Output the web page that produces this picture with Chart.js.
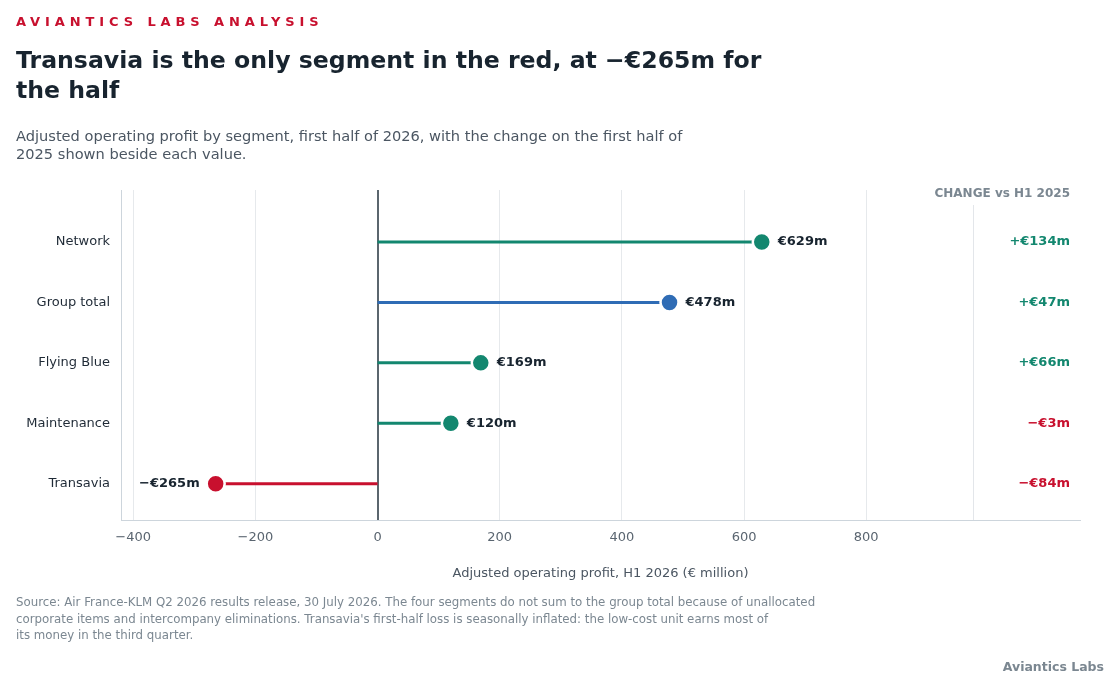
<!DOCTYPE html>
<html>
<head>
<meta charset="utf-8">
<script src="https://cdn.jsdelivr.net/npm/chart.js@4.4.1/dist/chart.umd.min.js"></script>
<style>
  html,body{margin:0;padding:0;background:#fff;width:1120px;height:690px;overflow:hidden;font-family:"DejaVu Sans",sans-serif;}
  .t{position:absolute;left:16px;white-space:nowrap;}
  #kicker{top:13px;font-size:13px;font-weight:bold;color:#c8102e;letter-spacing:4.9px;line-height:18px;}
  #title{top:45px;font-size:23.6px;font-weight:bold;color:#18242f;line-height:30px;}
  #sub{top:127px;font-size:14.6px;color:#4b5662;line-height:18px;}
  #foot{top:594px;font-size:11.8px;color:#7b8791;line-height:16.5px;}
  #brand{position:absolute;right:16px;top:659px;font-size:12.5px;font-weight:bold;color:#7b8791;}
  #wrap{position:absolute;left:0;top:0;width:1120px;height:690px;}
</style>
</head>
<body>
<div id="wrap"><canvas id="c"></canvas></div>
<div class="t" id="kicker">AVIANTICS LABS ANALYSIS</div>
<div class="t" id="title">Transavia is the only segment in the red, at −€265m for<br>the half</div>
<div class="t" id="sub">Adjusted operating profit by segment, first half of 2026, with the change on the first half of<br>2025 shown beside each value.</div>
<div class="t" id="foot">Source: Air France-KLM Q2 2026 results release, 30 July 2026. The four segments do not sum to the group total because of unallocated<br>corporate items and intercompany eliminations. Transavia's first-half loss is seasonally inflated: the low-cost unit earns most of<br>its money in the third quarter.</div>
<div id="brand">Aviantics Labs</div>
<script>
const categories = ["Network", "Group total", "Flying Blue", "Maintenance", "Transavia"];
const profitValues = [629, 478, 169, 120, -265];
const changeValues = [134, 47, 66, -3, -84];
const rowColors = ["#13876f", "#2f6cb5", "#13876f", "#13876f", "#c8102e"];
const xTicks = [-400, -200, 0, 200, 400, 600, 800];

const GREEN = "#13876f", RED = "#c8102e";
const fmt = v => (v < 0 ? "−€" + Math.abs(v) : "€" + v) + "m";
const fmtChange = v => (v < 0 ? "−€" + Math.abs(v) : "+€" + v) + "m";

const datasets = categories.map((c, i) => ({
  label: c,
  data: [{x: 0, y: i}, {x: profitValues[i], y: i}],
  showLine: true,
  borderColor: rowColors[i],
  borderWidth: 3,
  borderCapStyle: "butt",
  pointRadius: [0, 9],
  pointHoverRadius: [0, 9],
  pointBackgroundColor: rowColors[i],
  pointBorderColor: "#ffffff",
  pointBorderWidth: [0, 2.5],
}));

const labelPlugin = {
  id: "labels",
  afterDatasetsDraw(chart) {
    const {ctx, scales: {x, y}, chartArea} = chart;
    ctx.save();
    ctx.font = "bold 13px 'DejaVu Sans'";
    ctx.textBaseline = "middle";
    profitValues.forEach((v, i) => {
      const px = x.getPixelForValue(v), py = y.getPixelForValue(i);
      ctx.fillStyle = "#18242f";
      if (v >= 0) { ctx.textAlign = "left"; ctx.fillText(fmt(v), px + 16, py); }
      else { ctx.textAlign = "right"; ctx.fillText(fmt(v), px - 16, py); }
      ctx.textAlign = "right";
      ctx.fillStyle = changeValues[i] >= 0 ? GREEN : RED;
      ctx.fillText(fmtChange(changeValues[i]), chartArea.right - 10, py);
    });
    ctx.font = "bold 12px 'DejaVu Sans'";
    ctx.fillStyle = "#7b8791";
    ctx.textAlign = "right";
    ctx.fillText("CHANGE vs H1 2025", chartArea.right - 10, chartArea.top + 4);
    const sx = Math.round(x.getPixelForValue(975)) + 0.5;
    ctx.strokeStyle = "#e3e6ea";
    ctx.lineWidth = 1;
    ctx.beginPath();
    ctx.moveTo(sx, chartArea.top + 15);
    ctx.lineTo(sx, chartArea.bottom);
    ctx.stroke();
    ctx.restore();
  }
};

new Chart(document.getElementById("c"), {
  type: "scatter",
  data: {datasets},
  plugins: [labelPlugin],
  options: {
    responsive: true,
    maintainAspectRatio: false,
    animation: false,
    layout: {padding: {left: 0, top: 190, right: 40, bottom: 105}},
    plugins: {legend: {display: false}, tooltip: {enabled: false}},
    scales: {
      x: {
        type: "linear",
        min: -420, max: 1150,
        afterBuildTicks: s => { s.ticks = xTicks.map(v => ({value: v})); },
        afterFit: s => { s.height = 65; },
        grid: {
          drawTicks: false,
          color: c => c.tick && c.tick.value === 0 ? "#5b666e" : "#e6e9ec",
          lineWidth: c => c.tick && c.tick.value === 0 ? 2 : 1,
        },
        border: {color: "#cdd5dc", width: 1},
        ticks: {
          padding: 10,
          color: "#5a6570",
          font: {family: "DejaVu Sans", size: 13},
          callback: v => v < 0 ? "−" + Math.abs(v) : String(v),
        },
        title: {
          display: true,
          text: "Adjusted operating profit, H1 2026 (€ million)",
          color: "#4b5662",
          font: {family: "DejaVu Sans", size: 13},
          padding: {top: 4, bottom: 4},
        },
      },
      y: {
        type: "linear",
        reverse: true,
        min: -0.86, max: 4.6,
        afterBuildTicks: s => { s.ticks = categories.map((c, i) => ({value: i})); },
        afterFit: s => { s.width = 121; },
        grid: {display: false, drawTicks: false},
        border: {color: "#cdd5dc", width: 1},
        ticks: {
          padding: 11,
          color: "#1f2a36",
          font: {family: "DejaVu Sans", size: 13},
          callback: v => categories[v] ?? "",
        },
      },
    },
  },
});
</script>
</body>
</html>
